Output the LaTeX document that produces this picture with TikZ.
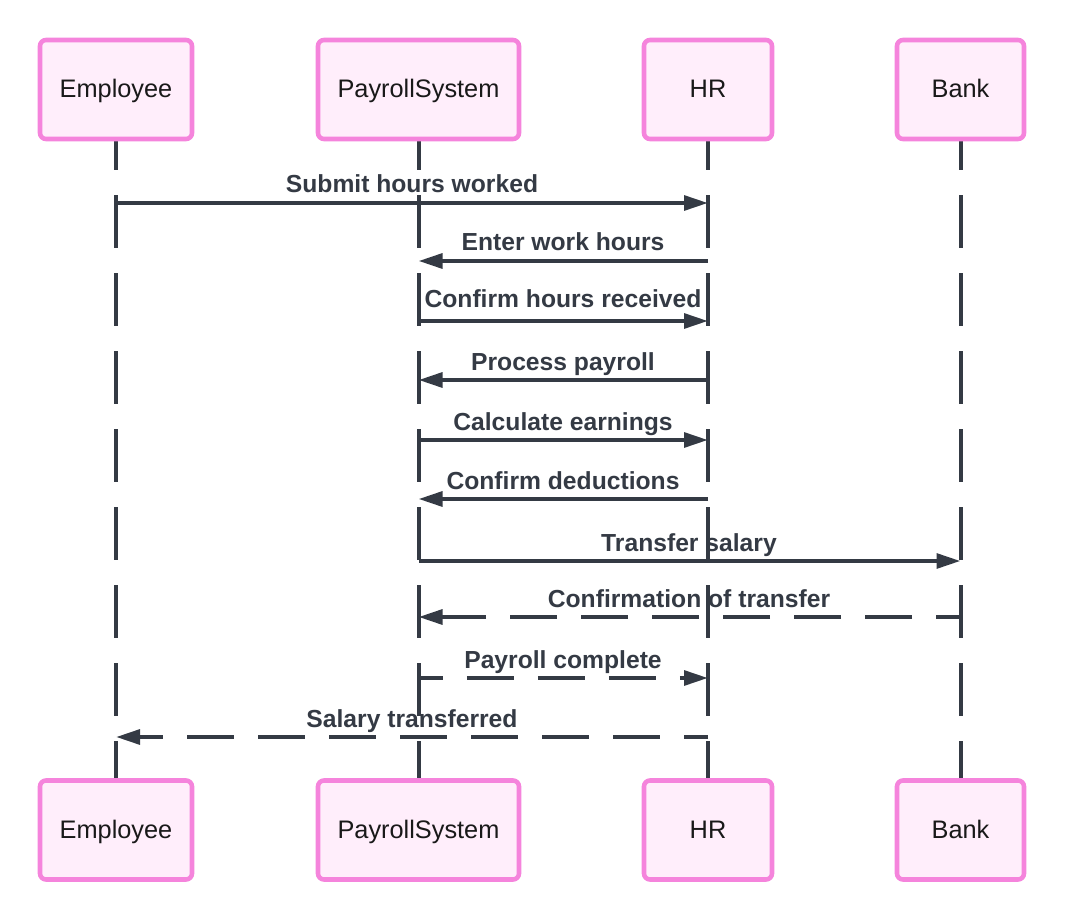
\documentclass[tikz,border=0pt]{standalone}
\usepackage{fontspec}
\setmainfont{Liberation Sans}
\usetikzlibrary{arrows.meta,backgrounds}
\definecolor{boxline}{HTML}{F584DC}
\definecolor{boxfill}{HTML}{FFEEFB}
\definecolor{ink}{HTML}{343A44}
\begin{document}
\begin{tikzpicture}[x=0.75pt,y=-0.75pt,
  actor/.style={draw=boxline, fill=boxfill, line width=3.4pt, rounded corners=4.5pt,
    minimum height=74.25pt, inner sep=0pt, text height=16pt, text depth=4pt,
    font=\fontsize{19}{22}\selectfont, text=black!90},
  life/.style={draw=ink, line width=3pt, dash pattern=on 39.75pt off 18.75pt, dash phase=18pt},
  msg/.style={draw=ink, line width=3pt, -{Triangle[length=18pt,width=11pt]}},
  reply/.style={msg, dash pattern=on 35.25pt off 18pt, dash phase=17pt},
  lbl/.style={font=\bfseries\fontsize{18.5}{22}\selectfont, text=ink, anchor=base, inner sep=0pt}]
\useasboundingbox (0,0) rectangle (1065,920);

% top actors
\node[actor, minimum width=114pt]    (emp) at (116,89.5)   {Employee};
\node[actor, minimum width=150.75pt] (ps)  at (418.5,89.5) {PayrollSystem};
\node[actor, minimum width=96pt]     (hr)  at (708,89.5)   {HR};
\node[actor, minimum width=95.25pt]  (bk)  at (960.5,89.5) {Bank};
% bottom actors
\node[actor, minimum width=114pt]    (empB) at (116,830)   {Employee};
\node[actor, minimum width=150.75pt] (psB)  at (418.5,830) {PayrollSystem};
\node[actor, minimum width=96pt]     (hrB)  at (708,830)   {HR};
\node[actor, minimum width=95.25pt]  (bkB)  at (960.5,830) {Bank};

% lifelines
\begin{pgfonlayer}{background}
\draw[life] (emp.south) -- (empB.north);
\draw[life] (ps.south) -- (psB.north);
\draw[life] (hr.south) -- (hrB.north);
\draw[life] (bk.south) -- (bkB.north);
\end{pgfonlayer}

% message rows
\coordinate (r1) at (0,203);
\coordinate (r2) at (0,261);
\coordinate (r3) at (0,321);
\coordinate (r4) at (0,380);
\coordinate (r5) at (0,440);
\coordinate (r6) at (0,499);
\coordinate (r7) at (0,561);
\coordinate (r8) at (0,617);
\coordinate (r9) at (0,678);
\coordinate (r10) at (0,737);

\draw[msg]   (emp |- r1) -- (hr |- r1);
\draw[msg]   (hr |- r2) -- (ps |- r2);
\draw[msg]   (ps |- r3) -- (hr |- r3);
\draw[msg]   (hr |- r4) -- (ps |- r4);
\draw[msg]   (ps |- r5) -- (hr |- r5);
\draw[msg]   (hr |- r6) -- (ps |- r6);
\draw[msg]   (ps |- r7) -- (bk |- r7);
\draw[reply] (bk |- r8) -- (ps |- r8);
\draw[reply] (ps |- r9) -- (hr |- r9);
\draw[reply] (hr |- r10) -- (emp |- r10);

\node[lbl] (l1)  at (412,193) {Submit hours worked};
\node[lbl] (l2)  at (563,251) {Enter work hours};
\node[lbl] (l3)  at (563,307) {Confirm hours received};
\node[lbl] (l4)  at (563,370) {Process payroll};
\node[lbl] (l5)  at (563,430) {Calculate earnings};
\node[lbl] (l6)  at (563,489) {Confirm deductions};
\node[lbl] (l7)  at (689,551) {Transfer salary};
\node[lbl] (l8)  at (689,607) {Confirmation of transfer};
\node[lbl] (l9)  at (563,668) {Payroll complete};
\node[lbl] (l10) at (412,727) {Salary transferred};
\end{tikzpicture}
\end{document}
